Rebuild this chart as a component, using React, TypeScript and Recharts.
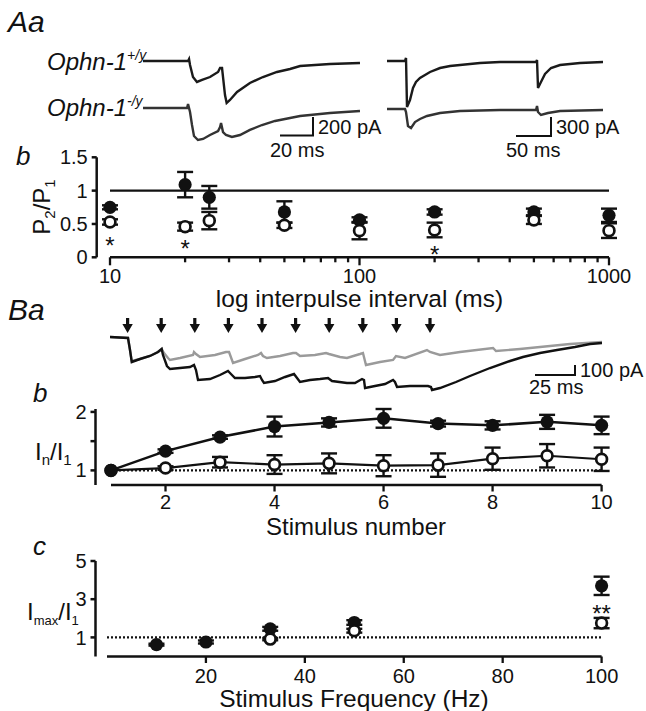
import { ComposedChart, ErrorBar, Line, ReferenceLine, Scatter, XAxis, YAxis } from 'recharts'

const FONT = '"Liberation Sans", Arial, Helvetica, sans-serif'
const INK = '#111'
const GREY = '#9a9a9a'

// Aa: paired-pulse traces, [time (ms), current (pA)]
const pp20WT: [number, number][] = [
  [0, 0], [27.3, 0], [27.9, 22], [28.5, -44], [30.3, -178], [32.7, -233], [35.8, -211],
  [40.6, -178], [45.5, -122], [46.7, -78], [47.9, -78], [49.7, -378], [50.7, -467],
  [52.7, -433], [57, -344], [64.8, -244], [72.7, -178], [81.2, -122], [89.1, -89],
  [95.2, -56], [113.3, -33], [131.5, -22],
]
const pp20KO: [number, number][] = [
  [0, 0], [26.7, 0], [27.3, 44], [28.5, -44], [29.7, -189], [30.9, -311], [33.3, -356],
  [36.4, -344], [40.6, -300], [45.5, -256], [46.7, -211], [47.3, -167], [48.5, -267],
  [50.3, -300], [53.9, -322], [58.8, -300], [64.8, -244], [72.1, -189], [80, -144],
  [89.1, -111], [95.2, -89], [113.3, -56], [131.5, -33],
]
const pp200WT: [number, number][] = [
  [0, 0], [27.3, 0], [28.8, 50], [30.3, -767], [34.8, -650], [39.4, -450], [43.9, -350],
  [50, -283], [57.6, -233], [65.2, -183], [80.3, -117], [95.5, -83], [110.6, -67],
  [140.9, -33], [171.2, -17], [225.8, -17], [227.3, 17], [228.8, -450], [233.3, -350],
  [239.4, -217], [248.5, -117], [262.1, -67], [292.4, -33], [327.3, -17],
]
const pp200KO: [number, number][] = [
  [0, 0], [27.3, 0], [28.8, -50], [31.8, -283], [36.4, -317], [42.4, -217], [50, -167],
  [60.6, -117], [80.3, -67], [110.6, -33], [171.2, -17], [225.8, -17], [227.3, 50],
  [228.8, -50], [233.3, -100], [243.9, -67], [262.1, -33], [327.3, -17],
]

// Ab: paired-pulse ratio vs interval
const intervalsMs = [10, 20, 25, 50, 100, 200, 500, 1000]
const ppRatioWT = [0.75, 1.09, 0.9, 0.68, 0.56, 0.68, 0.68, 0.63]
const ppRatioWTErr = [0.03, 0.19, 0.17, 0.16, 0.04, 0.04, 0.05, 0.1]
const ppRatioKO = [0.53, 0.46, 0.55, 0.48, 0.4, 0.41, 0.56, 0.4]
const ppRatioKOErr = [0.04, 0.06, 0.13, 0.04, 0.13, 0.11, 0.06, 0.11]
const ppSigMs = [10, 20, 200]
const ppSigLevel = [0.26, 0.21, 0.12]
const ppAxisTicks = [10, 20, 30, 40, 50, 60, 70, 80, 90, 100, 200, 300, 400, 500, 600, 700, 800, 900, 1000]
const ppMajorTicks = [10, 100, 1000]

// Ba: 10-pulse train traces, [time (ms), current (pA)]
const trainWT: [number, number][] = [
  [0, 10], [11.25, 0], [12.5, -120], [13.6, -240], [18.75, -210], [25, -180], [30, -140],
  [32.3, -110], [33.1, -170], [35.6, -280], [37.5, -310], [43.75, -300], [50, -290],
  [52.5, -270], [53.75, -320], [55, -420], [62.5, -410], [68.75, -370], [73.75, -330],
  [75.6, -360], [78.1, -400], [84.4, -400], [90.6, -390], [93.75, -380], [95, -420],
  [96.25, -450], [103.1, -430], [109.4, -390], [115, -360], [116.9, -400], [118.75, -440],
  [125, -420], [131.25, -410], [136.25, -400], [138.75, -430], [148.1, -450], [153.1, -450],
  [157.5, -410], [158.75, -420], [159.4, -500], [165.6, -480], [171.9, -460], [176.9, -420],
  [178.1, -440], [179.4, -490], [187.5, -480], [198.75, -480], [200.6, -490], [201.25, -520],
  [206.25, -500], [216.25, -440], [225, -380], [237.5, -300], [250, -230], [258.1, -190],
  [268.75, -150], [279.4, -120], [290.6, -90], [300, -60], [307.5, -50],
]
const trainKO: [number, number][] = [
  [0, 10], [11.25, 0], [12.5, -120], [13.6, -230], [18.75, -210], [25, -180], [30, -140],
  [32.3, -110], [33.75, -150], [36.25, -200], [37.5, -220], [43.75, -200], [51.9, -170],
  [52.5, -140], [53.75, -160], [56.25, -190], [65.6, -170], [72.5, -140], [74.4, -140],
  [76.9, -250], [84.4, -210], [92.5, -170], [94.4, -150], [95.6, -180], [98.1, -200],
  [106.25, -180], [114.4, -150], [116.25, -150], [118.75, -180], [128.1, -170], [135, -150],
  [136.9, -160], [143.75, -190], [148.1, -200], [156.25, -160], [158.1, -150], [160, -270],
  [168.75, -240], [176.9, -220], [178.75, -180], [184.4, -200], [198.1, -120], [200, -140],
  [206.25, -170], [218.75, -140], [239.4, -100], [241.25, -130], [256.25, -110],
  [268.75, -90], [287.5, -60], [307.5, -40],
]
const stimTimesMs = [11, 32, 53, 74, 95, 116, 137, 158, 179, 200]
const ARROW_LEVEL = 130

// Bb: In/I1 vs stimulus number
const stimNumber = [1, 2, 3, 4, 5, 6, 7, 8, 9, 10]
const inWT = [1.0, 1.33, 1.57, 1.75, 1.82, 1.89, 1.8, 1.77, 1.83, 1.77]
const inWTErr = [0, 0.03, 0.03, 0.17, 0.07, 0.16, 0.05, 0.07, 0.12, 0.15]
const inKO = [1.0, 1.04, 1.14, 1.1, 1.12, 1.08, 1.09, 1.2, 1.25, 1.19]
const inKOErr = [0, 0.03, 0.09, 0.16, 0.17, 0.18, 0.2, 0.19, 0.2, 0.2]

// Bc: Imax/I1 vs stimulus frequency
const freqWT = [10, 20, 33, 50, 100]
const imaxWT = [0.62, 0.76, 1.45, 1.78, 3.7]
const imaxWTErr = [0.05, 0.08, 0.1, 0.12, 0.48]
const freqKO = [33, 50, 100]
const imaxKO = [0.91, 1.35, 1.75]
const imaxKOErr = [0.06, 0.1, 0.27]
const freqSigHz = [100]
const freqSigLevel = [2.56]

const pts = (a: [number, number][]) => a.map(([t, i]) => ({ t, i }))
const xy = (xs: number[], ys: number[], errs?: number[]) =>
  xs.map((x, k) => ({ x, y: ys[k], err: errs ? errs[k] : 0 }))

const FilledDot = (p: any) => <circle key={`f${p.index}`} cx={p.cx} cy={p.cy} r={6.6} fill={INK} />
const OpenDot = (p: any) => (
  <circle key={`o${p.index}`} cx={p.cx} cy={p.cy} r={5.4} fill="#fff" stroke={INK} strokeWidth={2.7} />
)
const Star = (p: any) => (
  <text x={p.cx} y={p.cy + 14} textAnchor="middle" fontSize={24} fontFamily={FONT} fill={INK}>
    {p.payload?.label ?? '*'}
  </text>
)
const Arrow = (p: any) => (
  <path
    d={`M${p.cx - 1.6},${p.cy - 7} h3.2 v6 h3.6 l-5.2,9 l-5.2,-9 h3.6 z`}
    fill={INK}
  />
)

const axisStyle = { stroke: INK, strokeWidth: 2.5 }
const tickFont = { fontSize: 20, fill: INK, fontFamily: FONT }

function BottomTick(props: any) {
  const { x, y, payload, major, len, labelDy } = props
  const isMajor = major ? major.includes(payload.value) : true
  return (
    <g>
      <line x1={x} x2={x} y1={y} y2={y + (isMajor ? len : len - 3)} stroke={INK} strokeWidth={2.3} />
      {isMajor && (
        <text x={x} y={y + labelDy} textAnchor="middle" fontSize={20} fontFamily={FONT} fill={INK}>
          {payload.value}
        </text>
      )}
    </g>
  )
}

type Box = { left: number; top: number; width: number; height: number; baseY: number; pxPerMs: number; pxPerPA: number }

function Trace({ box, series, arrows }: { box: Box; series: { data: [number, number][]; color: string }[]; arrows?: number[] }) {
  const tMax = box.width / box.pxPerMs
  const iMax = (box.baseY - box.top) / box.pxPerPA
  const iMin = -(box.top + box.height - box.baseY) / box.pxPerPA
  return (
    <div style={{ position: 'absolute', left: box.left, top: box.top }}>
      <ComposedChart width={box.width} height={box.height} margin={{ top: 0, right: 0, bottom: 0, left: 0 }}>
        <XAxis type="number" dataKey="t" domain={[0, tMax]} hide allowDataOverflow />
        <YAxis type="number" dataKey="i" domain={[iMin, iMax]} hide allowDataOverflow />
        {series.map((s, k) => (
          <Line
            key={k}
            data={pts(s.data)}
            dataKey="i"
            type="linear"
            stroke={s.color}
            strokeWidth={2.4}
            dot={false}
            isAnimationActive={false}
          />
        ))}
        {arrows && (
          <Scatter
            data={arrows.map((t) => ({ t, i: ARROW_LEVEL }))}
            shape={Arrow}
            isAnimationActive={false}
          />
        )}
      </ComposedChart>
    </div>
  )
}

function RatioPanel() {
  return (
    <div style={{ position: 'absolute', left: 0, top: 140 }}>
      <ComposedChart width={646} height={190} margin={{ top: 17.3, right: 37, bottom: 42.7, left: 36.7 }}>
        <XAxis
          type="number"
          dataKey="x"
          scale="log"
          domain={[10, 1000]}
          ticks={ppAxisTicks}
          interval={0}
          padding={{ left: 13.3, right: 0 }}
          height={30}
          axisLine={false}
          tickLine={false}
          tickSize={0}
          tickMargin={0}
          tick={<BottomTick major={ppMajorTicks} len={8} labelDy={25.7} />}
        />
        <YAxis
          type="number"
          dataKey="y"
          domain={[0, 1.5]}
          ticks={[0, 0.5, 1, 1.5]}
          width={60}
          axisLine={axisStyle}
          tickLine={axisStyle}
          tickSize={5}
          tickMargin={4}
          tick={tickFont}
        />
        <ReferenceLine segment={[{ x: 10, y: 0 }, { x: 1000, y: 0 }]} stroke={INK} strokeWidth={2.5} ifOverflow="visible" />
        <ReferenceLine segment={[{ x: 10, y: 1 }, { x: 1000, y: 1 }]} stroke={INK} strokeWidth={2.3} ifOverflow="visible" />
        <Scatter data={xy(intervalsMs, ppRatioWT, ppRatioWTErr)} shape={FilledDot} isAnimationActive={false}>
          <ErrorBar dataKey="err" direction="y" width={8} stroke={INK} strokeWidth={2.4} isAnimationActive={false} />
        </Scatter>
        <Scatter data={xy(intervalsMs, ppRatioKO, ppRatioKOErr)} shape={OpenDot} isAnimationActive={false}>
          <ErrorBar dataKey="err" direction="y" width={8} stroke={INK} strokeWidth={2.4} isAnimationActive={false} />
        </Scatter>
        <Scatter data={xy(ppSigMs, ppSigLevel)} shape={Star} isAnimationActive={false} />
      </ComposedChart>
    </div>
  )
}

function TrainPanel() {
  const wt = xy(stimNumber, inWT, inWTErr)
  const ko = xy(stimNumber, inKO, inKOErr)
  return (
    <div style={{ position: 'absolute', left: 0, top: 390 }}>
      <ComposedChart width={646} height={150} margin={{ top: 19, right: 44.4, bottom: 25, left: 35.5 }}>
        <XAxis
          type="number"
          dataKey="x"
          domain={[1, 10]}
          ticks={[2, 4, 6, 8, 10]}
          interval={0}
          padding={{ left: 15.5, right: 0 }}
          height={30}
          axisLine={false}
          tickLine={false}
          tickSize={0}
          tickMargin={0}
          tick={<BottomTick len={6.5} labelDy={24} />}
        />
        <YAxis
          type="number"
          dataKey="y"
          domain={[0.75, 2]}
          ticks={[1, 1.5, 2]}
          tickFormatter={(v: number) => (v === 1.5 ? '' : String(v))}
          width={60}
          axisLine={axisStyle}
          tickLine={axisStyle}
          tickSize={5}
          tickMargin={4}
          tick={tickFont}
        />
        <ReferenceLine segment={[{ x: 1, y: 0.75 }, { x: 10, y: 0.75 }]} stroke={INK} strokeWidth={2.5} ifOverflow="visible" />
        <ReferenceLine segment={[{ x: 1, y: 1 }, { x: 10, y: 1 }]} stroke={INK} strokeWidth={2.2} strokeDasharray="2 2" ifOverflow="visible" />
        <Line data={ko} dataKey="y" type="linear" stroke={INK} strokeWidth={2.2} dot={OpenDot} isAnimationActive={false}>
          <ErrorBar dataKey="err" direction="y" width={8} stroke={INK} strokeWidth={2.4} isAnimationActive={false} />
        </Line>
        <Line data={wt} dataKey="y" type="linear" stroke={INK} strokeWidth={2.5} dot={FilledDot} isAnimationActive={false}>
          <ErrorBar dataKey="err" direction="y" width={8} stroke={INK} strokeWidth={2.4} isAnimationActive={false} />
        </Line>
      </ComposedChart>
    </div>
  )
}

function FrequencyPanel() {
  return (
    <div style={{ position: 'absolute', left: 0, top: 545 }}>
      <ComposedChart width={646} height={166} margin={{ top: 16, right: 44.4, bottom: 24.5, left: 35.5 }}>
        <XAxis
          type="number"
          dataKey="x"
          domain={[0, 100]}
          ticks={[20, 40, 60, 80, 100]}
          interval={0}
          padding={{ left: 11.5, right: 0 }}
          height={30}
          axisLine={false}
          tickLine={false}
          tickSize={0}
          tickMargin={0}
          tick={<BottomTick len={6.5} labelDy={26} />}
        />
        <YAxis
          type="number"
          dataKey="y"
          domain={[0, 5]}
          ticks={[1, 3, 5]}
          width={60}
          axisLine={axisStyle}
          tickLine={axisStyle}
          tickSize={5}
          tickMargin={4}
          tick={tickFont}
        />
        <ReferenceLine segment={[{ x: 0, y: 0 }, { x: 100, y: 0 }]} stroke={INK} strokeWidth={2.5} ifOverflow="visible" />
        <ReferenceLine segment={[{ x: 0, y: 1 }, { x: 100, y: 1 }]} stroke={INK} strokeWidth={2.2} strokeDasharray="2 2" ifOverflow="visible" />
        <Scatter data={xy(freqWT, imaxWT, imaxWTErr)} shape={FilledDot} isAnimationActive={false}>
          <ErrorBar dataKey="err" direction="y" width={8} stroke={INK} strokeWidth={2.4} isAnimationActive={false} />
        </Scatter>
        <Scatter data={xy(freqKO, imaxKO, imaxKOErr)} shape={OpenDot} isAnimationActive={false}>
          <ErrorBar dataKey="err" direction="y" width={8} stroke={INK} strokeWidth={2.4} isAnimationActive={false} />
        </Scatter>
        <Scatter
          data={freqSigHz.map((x, k) => ({ x, y: freqSigLevel[k], label: '**' }))}
          shape={Star}
          isAnimationActive={false}
        />
      </ComposedChart>
    </div>
  )
}

function Annotations() {
  return (
    <svg
      width={646}
      height={711}
      style={{ position: 'absolute', left: 0, top: 0, pointerEvents: 'none' }}
      fontFamily={FONT}
      fill={INK}
    >
      <text x={8} y={32} fontSize={30} fontStyle="italic">Aa</text>
      <text x={47} y={70} fontSize={24} fontStyle="italic">
        Ophn-1<tspan fontSize={14} dy={-10}>+/y</tspan>
      </text>
      <text x={47} y={116} fontSize={24} fontStyle="italic">
        Ophn-1<tspan fontSize={14} dy={-10}>-/y</tspan>
      </text>
      <path d="M280,135.5 H313 V117" fill="none" stroke={INK} strokeWidth={2} />
      <text x={318} y={134} fontSize={20}>200 pA</text>
      <text x={270} y={157} fontSize={20}>20 ms</text>
      <path d="M516,136 H551 V117" fill="none" stroke={INK} strokeWidth={2} />
      <text x={556} y={134} fontSize={20}>300 pA</text>
      <text x={506} y={157} fontSize={20}>50 ms</text>

      <text x={16} y={165} fontSize={26} fontStyle="italic">b</text>
      <text transform="translate(50,207) rotate(-90)" textAnchor="middle" fontSize={24}>
        P<tspan fontSize={15} dy={5}>2</tspan><tspan dy={-5}>/P</tspan><tspan fontSize={15} dy={5}>1</tspan>
      </text>
      <text x={359.5} y={307} textAnchor="middle" fontSize={24.5}>log interpulse interval (ms)</text>

      <text x={8} y={320} fontSize={30} fontStyle="italic">Ba</text>
      <path d="M535,375 H575 V365" fill="none" stroke={INK} strokeWidth={2} />
      <text x={580} y={377} fontSize={20}>100 pA</text>
      <text x={529} y={394} fontSize={20}>25 ms</text>

      <text x={33} y={402} fontSize={26} fontStyle="italic">b</text>
      <text x={35} y={460} fontSize={24}>
        I<tspan fontSize={15} dy={5}>n</tspan><tspan dy={-5}>/I</tspan><tspan fontSize={15} dy={5}>1</tspan>
      </text>
      <text x={356} y={535} textAnchor="middle" fontSize={24}>Stimulus number</text>

      <text x={33} y={555} fontSize={26} fontStyle="italic">c</text>
      <text x={27} y={620} fontSize={24}>
        I<tspan fontSize={13} dy={5}>max</tspan><tspan dy={-5}>/I</tspan><tspan fontSize={13} dy={5}>1</tspan>
      </text>
      <text x={354} y={707} textAnchor="middle" fontSize={24.5}>Stimulus Frequency (Hz)</text>
    </svg>
  )
}

export default function App() {
  return (
    <div style={{ position: 'absolute', left: 0, top: 0, width: 646, height: 711, background: '#fff', fontFamily: FONT }}>
      <Trace
        box={{ left: 143, top: 45, width: 217, height: 75, baseY: 61, pxPerMs: 1.65, pxPerPA: 0.09 }}
        series={[{ data: pp20WT, color: '#1a1a1a' }]}
      />
      <Trace
        box={{ left: 143, top: 95, width: 217, height: 50, baseY: 108, pxPerMs: 1.65, pxPerPA: 0.09 }}
        series={[{ data: pp20KO, color: '#333' }]}
      />
      <Trace
        box={{ left: 387, top: 45, width: 216, height: 75, baseY: 61, pxPerMs: 0.66, pxPerPA: 0.06 }}
        series={[{ data: pp200WT, color: '#1a1a1a' }]}
      />
      <Trace
        box={{ left: 387, top: 95, width: 216, height: 50, baseY: 109, pxPerMs: 0.66, pxPerPA: 0.06 }}
        series={[{ data: pp200KO, color: '#333' }]}
      />
      <RatioPanel />
      <Trace
        box={{ left: 110, top: 312, width: 492, height: 85, baseY: 338, pxPerMs: 1.6, pxPerPA: 0.1 }}
        series={[{ data: trainKO, color: GREY }, { data: trainWT, color: INK }]}
        arrows={stimTimesMs}
      />
      <TrainPanel />
      <FrequencyPanel />
      <Annotations />
    </div>
  )
}
